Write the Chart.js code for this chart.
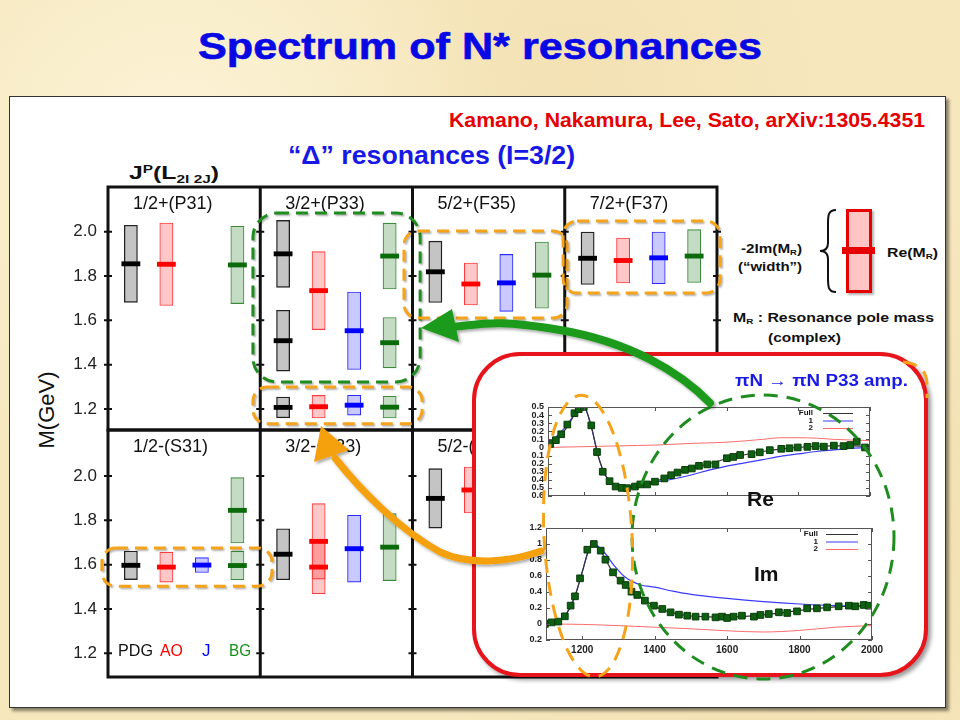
<!DOCTYPE html>
<html>
<head>
<meta charset="utf-8">
<script src="https://cdn.jsdelivr.net/npm/chart.js@4.4.0/dist/chart.umd.min.js"></script>
<style>
body{margin:0;width:960px;height:720px;overflow:hidden;position:relative;
  font-family:"Liberation Sans",Arial,Helvetica,sans-serif;
  background:radial-gradient(circle at 18% 22%,rgba(255,250,228,.7),transparent 35%),
    radial-gradient(circle at 82% 75%,rgba(238,214,160,.55),transparent 40%),
    radial-gradient(circle at 60% 10%,rgba(240,220,170,.5),transparent 30%),#f6e7bd;}
.abs{position:absolute;white-space:nowrap;line-height:1;transform-origin:0 50%;}
.sup{font-size:.62em;position:relative;top:-.55em;}
.sub{font-size:.62em;position:relative;top:.3em;}
#panel{left:9px;top:96px;width:935px;height:610px;background:#fff;border:1px solid #333;
  box-shadow:3px 3px 3px rgba(0,0,0,.45);}
#inset{left:472px;top:352px;width:448px;height:317px;border:4px solid #e8141b;border-radius:48px;
  background:#fff;box-shadow:3px 3px 4px rgba(0,0,0,.4);z-index:4;}
canvas{position:absolute;}
</style>
</head>
<body>
<div id="panel" class="abs"></div>

<div class="abs" data-w="564" style="left:198px;top:28px;font-weight:bold;font-size:37px;color:#0808e4;-webkit-text-stroke:.6px #0808e4">Spectrum of N* resonances</div>
<div class="abs" data-w="476" style="left:449px;top:109px;font-weight:bold;font-size:21px;color:#e60000;z-index:2">Kamano, Nakamura, Lee, Sato, arXiv:1305.4351</div>
<div class="abs" data-w="287" style="left:288px;top:142px;font-weight:bold;font-size:26px;color:#1818e6;z-index:2">“Δ” resonances (I=3/2)</div>
<div class="abs" data-w="90" style="left:129px;top:163px;font-weight:bold;font-size:19px;color:#111;z-index:2">J<span class="sup">P</span>(L<span class="sub">2I 2J</span>)</div>
<div class="abs" style="left:47px;top:410px;font-size:22px;color:#111;z-index:2;transform:translate(-50%,-50%) rotate(-90deg);transform-origin:50% 50%">M(GeV)</div>

<div class="abs" data-w="35" style="left:118px;top:642px;font-size:17px;color:#111;z-index:3">PDG</div>
<div class="abs" data-w="23" style="left:160px;top:642px;font-size:17px;color:#f00;z-index:3">AO</div>
<div class="abs" style="left:202px;top:642px;font-size:17px;color:#00f;z-index:3">J</div>
<div class="abs" data-w="22" style="left:229px;top:642px;font-size:17px;color:#179017;z-index:3">BG</div>

<!-- explanation of one bar -->
<div class="abs" style="left:846px;top:209px;width:20px;height:78px;background:#ffc4c4;border:3px solid #e60000;box-shadow:2px 2px 2px rgba(0,0,0,.3);z-index:2"></div>
<div class="abs" style="left:842px;top:247px;width:33px;height:7px;background:#e60000;z-index:2"></div>
<div class="abs" data-w="61" style="left:741px;top:242px;font-weight:bold;font-size:13px;color:#111;z-index:2">-2Im(M<span class="sub">R</span>)</div>
<div class="abs" data-w="64" style="left:738px;top:260px;font-weight:bold;font-size:13px;color:#111;z-index:2">(“width”)</div>
<div class="abs" data-w="51" style="left:887px;top:246px;font-weight:bold;font-size:13px;color:#111;z-index:2">Re(M<span class="sub">R</span>)</div>
<div class="abs" data-w="201" style="left:733px;top:311px;font-weight:bold;font-size:13px;color:#111;z-index:2">M<span class="sub">R</span> : Resonance pole mass</div>
<div class="abs" data-w="73" style="left:768px;top:331px;font-weight:bold;font-size:13px;color:#111;z-index:2">(complex)</div>

<canvas id="topRow" width="708" height="260" style="left:20px;top:175px;z-index:2"></canvas>
<canvas id="botRow" width="708" height="265" style="left:20px;top:420px;z-index:2"></canvas>

<div id="inset" class="abs"></div>
<canvas id="reAmp" width="376" height="124" style="left:500px;top:398px;z-index:5"></canvas>
<canvas id="imAmp" width="392" height="144" style="left:498px;top:520px;z-index:5"></canvas>
<div class="abs" data-w="173" style="left:735px;top:373px;font-weight:bold;font-size:16px;color:#1a1ae6;z-index:6">πN → πN P33 amp.</div>
<div class="abs" style="left:747px;top:488px;font-weight:bold;font-size:21px;color:#111;z-index:6">Re</div>
<div class="abs" style="left:754px;top:563px;font-weight:bold;font-size:21px;color:#111;z-index:6">Im</div>

<svg class="abs" width="960" height="720" style="left:0;top:0;z-index:9">
  <defs><filter id="sh" x="-20%" y="-20%" width="140%" height="140%"><feDropShadow dx="2" dy="2" stdDeviation="1.5" flood-opacity="0.35"/></filter></defs>
  <path d="M836 210 C827 210 828 217 828 230 L828 243 C828 249 825 251 820 251 C825 251 828 253 828 259 L828 272 C828 285 827 292 836 292" fill="none" stroke="#111" stroke-width="2"/>
  <path d="M903 362 Q926 364 927 383 L927 398" fill="none" stroke="#f5a31a" stroke-width="3" stroke-dasharray="14 9"/>
  <ellipse cx="763" cy="537" rx="131" ry="142" fill="none" stroke="#1e8c1e" stroke-width="3" stroke-dasharray="14 9"/>
  <ellipse cx="588" cy="536" rx="44" ry="141" transform="rotate(-3 588 536)" fill="none" stroke="#f5a31a" stroke-width="3" stroke-dasharray="14 9"/>
  <g filter="url(#sh)">
    <path d="M710 403 C680 372 630 342 560 330 S480 325 452 327" stroke="#1f9a1f" stroke-width="8" fill="none" stroke-linecap="round"/>
    <polygon points="421,328 452,309 459,342" fill="#1f9a1f"/>
    <path d="M541 551 C510 562 470 566 440 552 C400 530 360 490 335 458" stroke="#f5a00f" stroke-width="7" fill="none" stroke-linecap="round"/>
    <polygon points="321,426 314,462 349,450" fill="#f5a00f"/>
  </g>
</svg>

<script>
const FONT = '"Liberation Sans", Arial, Helvetica, sans-serif';

const methods = ['PDG', 'AO', 'J', 'BG'];
const topPanels = ['1/2+(P31)', '3/2+(P33)', '5/2+(F35)', '7/2+(F37)'];
const botPanels = ['1/2-(S31)', '3/2-(D33)', '5/2-(D35)', '7/2-(G37)'];
const massTicks = [1.2, 1.4, 1.6, 1.8, 2.0];

// poles: [panel, Re(M_R), -2Im(M_R)] in GeV
const pdgTop = [[0, 1.855, 0.351], [1, 1.207, 0.097], [1, 1.508, 0.278], [1, 1.900, 0.305], [2, 1.819, 0.280], [3, 1.880, 0.240]];
const aoTop = [[0, 1.853, 0.375], [1, 1.210, 0.105], [1, 1.734, 0.355], [2, 1.764, 0.192], [3, 1.870, 0.206]];
const jTop = [[1, 1.217, 0.092], [1, 1.553, 0.353], [2, 1.769, 0.260], [3, 1.882, 0.236]];
const bgTop = [[0, 1.850, 0.352], [1, 1.208, 0.101], [1, 1.499, 0.230], [1, 1.890, 0.300], [2, 1.804, 0.302], [3, 1.890, 0.241]];
const pdgBot = [[0, 1.597, 0.132], [1, 1.647, 0.233], [2, 1.899, 0.271]];
const aoBot = [[0, 1.589, 0.138], [1, 1.589, 0.244], [1, 1.705, 0.343], [2, 1.937, 0.210]];
const jBot = [[0, 1.598, 0.070], [1, 1.672, 0.304]];
const bgBot = [[0, 1.596, 0.131], [0, 1.845, 0.298], [1, 1.679, 0.305]];

// highlighted groups: [panel from, panel to, mass low, mass high]
const boxesTop = [[0.952, 2.05, 1.322, 2.084, 'g'], [0.952, 2.063, 1.133, 1.299, 'o'],
                  [1.944, 3.015, 1.61, 2.003, 'o'], [2.989, 4.02, 1.723, 2.048, 'o']];
const boxesBot = [[-0.04, 1.077, 1.503, 1.675, 'o']];

// pi N -> pi N P33 amplitude (E in MeV)
const reData = [[1106, 0.043], [1122, 0.09], [1137, 0.163], [1154, 0.283], [1174, 0.423], [1186, 0.473], [1200, 0.50],
  [1221, 0.273], [1237, -0.057], [1253, -0.30], [1272, -0.417], [1289, -0.483], [1306, -0.50], [1321, -0.503],
  [1343, -0.483], [1358, -0.457], [1377, -0.457], [1399, -0.423], [1425, -0.383], [1444, -0.343], [1462, -0.31],
  [1483, -0.277], [1502, -0.26], [1522, -0.227], [1545, -0.21], [1568, -0.21], [1600, -0.133], [1618, -0.117],
  [1637, -0.093], [1669, -0.083], [1692, -0.06], [1720, -0.033], [1752, -0.017], [1775, -0.01], [1798, 0.0],
  [1825, 0.007], [1848, 0.017], [1871, 0.01], [1899, 0.023], [1926, 0.017], [1945, 0.03], [1963, 0.073], [1986, 0.0]];
const reFull = [[1100, 0.02], [1120, 0.08], [1140, 0.17], [1160, 0.3], [1180, 0.45], [1200, 0.5], [1220, 0.28],
  [1240, -0.1], [1260, -0.34], [1280, -0.45], [1300, -0.49], [1320, -0.5], [1350, -0.47], [1400, -0.42],
  [1450, -0.33], [1500, -0.26], [1550, -0.2], [1600, -0.14], [1650, -0.09], [1700, -0.05], [1750, -0.02],
  [1800, 0.0], [1850, 0.015], [1900, 0.02], [1950, 0.02], [2000, 0.01]];
const re1 = [[1100, 0.03], [1150, 0.26], [1180, 0.44], [1200, 0.5], [1220, 0.27], [1240, -0.1], [1260, -0.34],
  [1280, -0.45], [1300, -0.49], [1320, -0.5], [1350, -0.47], [1400, -0.43], [1450, -0.39], [1500, -0.34],
  [1550, -0.28], [1600, -0.23], [1650, -0.19], [1700, -0.15], [1750, -0.11], [1800, -0.08], [1850, -0.05],
  [1900, -0.03], [1950, -0.01], [2000, 0.0]];
const re2 = [[1100, 0.0], [1200, 0.01], [1300, 0.02], [1400, 0.03], [1500, 0.05], [1600, 0.065], [1700, 0.1],
  [1750, 0.12], [1800, 0.12], [1850, 0.115], [1900, 0.1], [2000, 0.085]];

const imData = [[1097, 0.0], [1115, 0.02], [1134, 0.03], [1152, 0.096], [1168, 0.23], [1180, 0.346], [1194, 0.571],
  [1214, 0.929], [1232, 1.0], [1251, 0.917], [1264, 0.804], [1285, 0.646], [1306, 0.542], [1320, 0.488],
  [1336, 0.404], [1352, 0.363], [1373, 0.292], [1398, 0.229], [1421, 0.188], [1444, 0.146], [1467, 0.117],
  [1490, 0.104], [1513, 0.092], [1540, 0.092], [1568, 0.083], [1586, 0.092], [1600, 0.075], [1618, 0.092],
  [1641, 0.104], [1674, 0.092], [1692, 0.113], [1715, 0.125], [1743, 0.146], [1766, 0.138], [1793, 0.158],
  [1821, 0.196], [1848, 0.196], [1876, 0.208], [1908, 0.221], [1936, 0.229], [1954, 0.221], [1977, 0.238], [1991, 0.229]];
const imFull = [[1100, 0.0], [1150, 0.09], [1180, 0.35], [1200, 0.65], [1220, 0.95], [1232, 1.0], [1250, 0.92],
  [1280, 0.68], [1300, 0.56], [1350, 0.38], [1400, 0.22], [1450, 0.14], [1500, 0.1], [1550, 0.09], [1600, 0.085],
  [1650, 0.095], [1700, 0.115], [1750, 0.14], [1800, 0.17], [1850, 0.195], [1900, 0.215], [1950, 0.225], [2000, 0.23]];
const im1 = [[1100, 0.0], [1150, 0.09], [1180, 0.35], [1200, 0.65], [1220, 0.95], [1232, 1.0], [1260, 0.9],
  [1290, 0.72], [1320, 0.58], [1360, 0.49], [1400, 0.46], [1450, 0.41], [1500, 0.37], [1600, 0.32], [1700, 0.28],
  [1800, 0.25], [1900, 0.23], [2000, 0.22]];
const im2 = [[1100, 0.0], [1200, -0.005], [1300, -0.02], [1400, -0.04], [1500, -0.06], [1600, -0.085], [1700, -0.1],
  [1800, -0.08], [1900, -0.04], [2000, -0.02]];

const eTicks = [1200, 1400, 1600, 1800, 2000];
const reTicks = [0.5, 0.4, 0.3, 0.2, 0.1, 0, -0.1, -0.2, -0.3, -0.4, -0.5, -0.6];
const imTicks = [1.2, 1, 0.8, 0.6, 0.4, 0.2, 0, -0.2];

const fillCol = ['rgba(0,0,0,0.23)', 'rgba(255,0,0,0.22)', 'rgba(0,0,255,0.21)', 'rgba(0,100,0,0.23)'];
const edgeCol = ['#222', '#ff3b3b', '#2b2bff', '#3a8a3a'];
const markCol = ['#000', '#ff0000', '#0000ff', '#0b6b0b'];
const MARK = 0.011;

function buildSets(lists) {
  const sets = [];
  lists.forEach((list, m) => {
    const layers = [[null, null, null, null]];
    list.forEach(([p, re, w]) => {
      let k = 0;
      while (layers[k] && layers[k][p] !== null) k++;
      if (!layers[k]) layers[k] = [null, null, null, null];
      layers[k][p] = [re, w];
    });
    layers.forEach(layer => {
      sets.push({
        stack: methods[m], order: 1,
        data: layer.map(v => v && [v[0] - v[1] / 2, v[0] + v[1] / 2]),
        backgroundColor: fillCol[m], borderColor: edgeCol[m], borderWidth: m == 0 ? 1.4 : 1.1,
        borderSkipped: false, barPercentage: 0.39, categoryPercentage: 0.933
      });
      sets.push({
        stack: methods[m], order: 0,
        data: layer.map(v => v && [v[0] - MARK, v[0] + MARK]),
        backgroundColor: markCol[m], borderWidth: 0,
        barPercentage: 0.53, categoryPercentage: 0.933
      });
    });
  });
  // marks first so the stack order stays PDG, AO, J, BG
  return sets.filter(s => s.order == 0).concat(sets.filter(s => s.order == 1));
}

function roundPath(ctx, x, y, w, h, r) {
  ctx.beginPath();
  ctx.moveTo(x + r, y);
  ctx.arcTo(x + w, y, x + w, y + h, r);
  ctx.arcTo(x + w, y + h, x, y + h, r);
  ctx.arcTo(x, y + h, x, y, r);
  ctx.arcTo(x, y, x + w, y, r);
  ctx.closePath();
}

const framePlugin = {
  id: 'frame',
  afterDraw(chart, args, opts) {
    const { ctx, chartArea: a, scales: { x, y } } = chart;
    const pw = a.width / 4;
    ctx.save();
    ctx.strokeStyle = '#111';
    ctx.lineWidth = 3;
    ctx.strokeRect(a.left, a.top, a.width, a.height);
    ctx.beginPath();
    for (let i = 1; i < 4; i++) {
      const px = x.getPixelForValue(i - 0.5);
      ctx.moveTo(px, a.top);
      ctx.lineTo(px, a.bottom);
    }
    ctx.stroke();
    ctx.lineWidth = 2;
    ctx.beginPath();
    for (let i = 0; i <= 4; i++) {
      const px = x.getPixelForValue(i - 0.5);
      massTicks.forEach(v => {
        const py = y.getPixelForValue(v);
        ctx.moveTo(px - 4, py);
        ctx.lineTo(px + 4, py);
      });
    }
    ctx.stroke();
    ctx.fillStyle = '#111';
    ctx.font = '18px ' + FONT;
    ctx.textBaseline = 'middle';
    opts.labels.forEach((t, i) => ctx.fillText(t, a.left + i * pw + 25, a.top + 17));

    ctx.lineWidth = 3;
    ctx.setLineDash([12, 7]);
    ctx.shadowColor = 'rgba(0,0,0,0.3)';
    ctx.shadowBlur = 2;
    ctx.shadowOffsetX = 1.5;
    ctx.shadowOffsetY = 1.5;
    opts.boxes.forEach(([p0, p1, m0, m1, c]) => {
      const x0 = a.left + p0 * pw, x1 = a.left + p1 * pw;
      const y0 = y.getPixelForValue(m1), y1 = y.getPixelForValue(m0);
      ctx.strokeStyle = c == 'g' ? '#1e8c1e' : '#f5a31a';
      roundPath(ctx, x0, y0, x1 - x0, y1 - y0, c == 'g' ? 24 : 14);
      ctx.stroke();
    });
    ctx.restore();
  }
};

function noPad(s) { s.paddingLeft = s.paddingRight = s.paddingTop = s.paddingBottom = 0; }

function rowChart(id, labels, lists, ymin, ymax, pad, boxes) {
  return new Chart(document.getElementById(id), {
    type: 'bar',
    data: { labels: labels, datasets: buildSets(lists) },
    options: {
      responsive: false, animation: false, events: [],
      layout: { padding: pad },
      plugins: { legend: { display: false }, tooltip: { enabled: false }, frame: { labels: labels, boxes: boxes } },
      scales: {
        x: { display: false },
        y: {
          min: ymin, max: ymax, stacked: false,
          grid: { display: false, drawTicks: false }, border: { display: false },
          afterBuildTicks: s => { s.ticks = massTicks.map(v => ({ value: v })); },
          ticks: { font: { size: 17, family: FONT }, color: '#222', padding: 11, autoSkip: false,
                   callback: v => Number(v).toFixed(1) },
          afterFit: s => { s.width = 88; noPad(s); }
        }
      }
    },
    plugins: [framePlugin]
  });
}

rowChart('topRow', topPanels, [pdgTop, aoTop, jTop, bgTop], 1.105, 2.2017,
  { top: 12, bottom: 5, left: 0, right: 11 }, boxesTop);
rowChart('botRow', botPanels, [pdgBot, aoBot, jBot, bgBot], 1.093, 2.2076,
  { top: 10, bottom: 8, left: 0, right: 11 }, boxesBot);

const gnuplotPlugin = {
  id: 'gp',
  afterDraw(chart, args, o) {
    const { ctx, chartArea: a, scales: { x, y } } = chart;
    ctx.save();
    ctx.strokeStyle = '#555';
    ctx.lineWidth = 1;
    ctx.strokeRect(a.left + 0.5, a.top + 0.5, a.width - 1, a.height - 1);
    ctx.beginPath();
    eTicks.forEach(v => {
      const px = Math.round(x.getPixelForValue(v)) + 0.5;
      ctx.moveTo(px, a.top); ctx.lineTo(px, a.top + 4);
      ctx.moveTo(px, a.bottom); ctx.lineTo(px, a.bottom - 4);
    });
    o.yt.forEach(v => {
      const py = Math.round(y.getPixelForValue(v)) + 0.5;
      ctx.moveTo(a.left, py); ctx.lineTo(a.left + 4, py);
      ctx.moveTo(a.right, py); ctx.lineTo(a.right - 4, py);
    });
    ctx.stroke();
    const names = ['Full', '1', '2'], cols = ['#333', '#3b3bff', '#ff6b6b'];
    ctx.font = 'bold 8px ' + FONT;
    ctx.textAlign = 'right';
    ctx.textBaseline = 'middle';
    names.forEach((t, i) => {
      const ty = a.top + 6 + i * 7.5;
      ctx.fillStyle = '#111';
      ctx.fillText(t, a.right - o.lg[0], ty);
      ctx.strokeStyle = cols[i];
      ctx.beginPath();
      ctx.moveTo(a.right - o.lg[1], ty + 0.5);
      ctx.lineTo(a.right - o.lg[2], ty + 0.5);
      ctx.stroke();
    });
    ctx.restore();
  }
};

const pts = arr => arr.map(([x, y]) => ({ x: x, y: y }));
function ampSets(data, full, one, two) {
  return [
    { data: pts(data), pointStyle: 'rect', pointRadius: 4.7, backgroundColor: '#0f5f12', borderColor: '#083d08',
      borderWidth: 1, showLine: false, order: 0 },
    { data: pts(full), showLine: true, borderColor: '#333', borderWidth: 1.2, pointRadius: 0,
      cubicInterpolationMode: 'monotone', order: 1 },
    { data: pts(one), showLine: true, borderColor: '#3b3bff', borderWidth: 1.2, pointRadius: 0,
      cubicInterpolationMode: 'monotone', order: 2 },
    { data: pts(two), showLine: true, borderColor: '#ff6b6b', borderWidth: 1, pointRadius: 0,
      cubicInterpolationMode: 'monotone', order: 3 }
  ];
}

const fmtAmp = v => v === 0 ? '0' : (Math.abs(v) === 1 ? '1' : Math.abs(v).toFixed(1));

function ampChart(id, sets, ymin, ymax, yt, showX, pad, lg) {
  return new Chart(document.getElementById(id), {
    type: 'scatter',
    data: { datasets: sets },
    options: {
      responsive: false, animation: false, events: [],
      layout: { padding: pad },
      plugins: { legend: { display: false }, tooltip: { enabled: false }, gp: { yt: yt, lg: lg } },
      scales: {
        x: {
          type: 'linear', min: 1100, max: 2000, display: showX,
          grid: { display: false, drawTicks: false }, border: { display: false },
          afterBuildTicks: s => { s.ticks = eTicks.map(v => ({ value: v })); },
          ticks: { font: { size: 10, weight: 'bold', family: FONT }, color: '#222', padding: 4, maxRotation: 0,
                   autoSkip: false, callback: v => String(v) },
          afterFit: s => { s.height = 22; noPad(s); }
        },
        y: {
          min: ymin, max: ymax,
          grid: { display: false, drawTicks: false }, border: { display: false },
          afterBuildTicks: s => { s.ticks = yt.map(v => ({ value: v })); },
          ticks: { font: { size: 9, weight: 'bold', family: FONT }, color: '#222', padding: 4, autoSkip: false,
                   callback: fmtAmp },
          afterFit: s => { s.width = 48; noPad(s); }
        }
      }
    },
    plugins: [gnuplotPlugin]
  });
}

ampChart('reAmp', ampSets(reData, reFull, re1, re2), -0.6, 0.5, reTicks, false,
  { top: 9, right: 6, bottom: 4, left: 0 }, [57, 47, 17]);
ampChart('imAmp', ampSets(imData, imFull, im1, im2), -0.2, 1.2, imTicks, true,
  { top: 8, right: 18, bottom: 2, left: 0 }, [54, 46, 14]);

document.querySelectorAll('[data-w]').forEach(el => {
  const w = el.getBoundingClientRect().width;
  el.style.transform = 'scaleX(' + (+el.dataset.w / w).toFixed(3) + ')';
});
</script>
</body>
</html>
